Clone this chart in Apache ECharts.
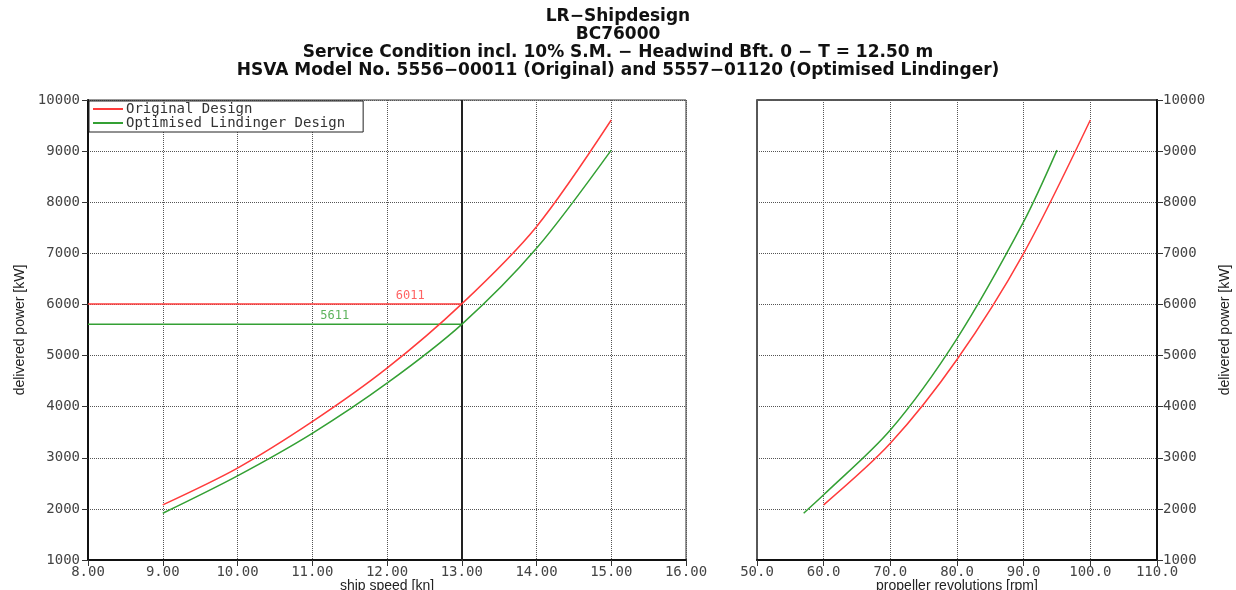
<!DOCTYPE html>
<html>
<head>
<meta charset="utf-8">
<script src="https://cdn.jsdelivr.net/npm/echarts@6/dist/echarts.min.js"></script>
<style>
html,body{margin:0;padding:0;background:#fff;}
#c{width:1236px;height:590px;}
</style>
</head>
<body>
<div id="c"></div>
<script>
// ---- data ----
const titleLines = [
  'LR\u2212Shipdesign',
  'BC76000',
  'Service Condition incl. 10% S.M. \u2212 Headwind Bft. 0 \u2212 T = 12.50 m',
  'HSVA Model No. 5556\u221200011 (Original) and 5557\u221201120 (Optimised Lindinger)'
];
const seriesNames = ['Original Design', 'Optimised Lindinger Design'];
const speed = [9, 10, 11, 12, 13, 14, 15];
const powerOrigSpeed = [2078, 2798, 3706, 4753, 6011, 7522, 9608];
const powerOptSpeed  = [1915, 2647, 3478, 4459, 5611, 7098, 9020];
const rpmOrig = [60, 70, 80, 90, 100];
const powerOrigRpm = [2078, 3282, 4922, 7000, 9608];
const rpmOpt = [57, 60, 70, 80, 90, 95];
const powerOptRpm = [1915, 2275, 3543, 5333, 7620, 9020];
const serviceSpeed = 13;
const servicePower = [6011, 5611];
const speedTicks = {min: 8, max: 16, interval: 1};
const rpmTicks = {min: 50, max: 110, interval: 10};
const powerTicks = {min: 1000, max: 10000, interval: 1000};

const RED = '#ff3b3b', GREEN = '#34a034';
const MONO = '"DejaVu Sans Mono", monospace';
const SANS = '"Liberation Sans", Arial, sans-serif';

const zip = (a, b) => a.map((v, i) => [v, b[i]]);

const chart = echarts.init(document.getElementById('c'), null, {renderer: 'canvas'});

const axisLabelStyle = {fontFamily: MONO, fontSize: 14, color: '#444'};
const splitLine = {show: true, lineStyle: {type: 'dotted', color: '#555', width: 1}};
const axisLine = {show: true, onZero: false, lineStyle: {color: '#111', width: 2}};
const axisTick = {show: true, length: 6, lineStyle: {color: '#333', width: 1}};
const curve = {type: 'line', smooth: 0.3, showSymbol: false, symbol: 'none', z: 5};
const nameStyle = {fontFamily: SANS, fontSize: 14, color: '#222'};

const option = {
  animation: false,
  backgroundColor: '#fff',
  title: {
    text: titleLines.join('\n'),
    left: 'center',
    top: 3,
    textStyle: {fontFamily: '"DejaVu Sans", sans-serif', fontWeight: 'bold', fontSize: 17, lineHeight: 18, color: '#111'}
  },
  legend: {
    data: seriesNames,
    orient: 'vertical',
    left: 89,
    top: 101,
    itemGap: 0,
    itemWidth: 30,
    itemHeight: 2,
    icon: 'rect',
    padding: [1, 18, 2, 4],
    backgroundColor: '#fff',
    borderColor: '#222',
    borderWidth: 1,
    borderRadius: 0,
    textStyle: {fontFamily: MONO, fontSize: 14, color: '#333', padding: [0, 0, 0, -2]}
  },
  grid: [
    {left: 88, top: 100, width: 598, height: 460, show: true, borderColor: '#333', borderWidth: 1, outerBoundsMode: 'none', containLabel: false},
    {left: 757, top: 100, width: 400, height: 460, show: true, borderColor: '#222', borderWidth: 1.5, outerBoundsMode: 'none', containLabel: false}
  ],
  xAxis: [
    {
      type: 'value', gridIndex: 0, ...speedTicks,
      name: 'ship speed [kn]', nameLocation: 'middle', nameGap: 19, nameMoveOverlap: false, nameTextStyle: nameStyle,
      axisLine, axisTick, splitLine,
      axisLabel: {...axisLabelStyle, margin: 5, formatter: v => v.toFixed(2)}
    },
    {
      type: 'value', gridIndex: 1, ...rpmTicks,
      name: 'propeller revolutions [rpm]', nameLocation: 'middle', nameGap: 19, nameMoveOverlap: false, nameTextStyle: nameStyle,
      axisLine, axisTick, splitLine,
      axisLabel: {...axisLabelStyle, margin: 5, formatter: v => v.toFixed(1)}
    }
  ],
  yAxis: [
    {
      type: 'value', gridIndex: 0, position: 'left', ...powerTicks,
      name: 'delivered power [kW]', nameLocation: 'middle', nameGap: 61, nameRotate: 90, nameMoveOverlap: false, nameTextStyle: nameStyle,
      axisLine, axisTick, splitLine,
      axisLabel: {...axisLabelStyle, margin: 8, formatter: v => String(v)}
    },
    {
      type: 'value', gridIndex: 1, position: 'right', ...powerTicks,
      name: 'delivered power [kW]', nameLocation: 'middle', nameGap: 61, nameRotate: 90, nameMoveOverlap: false, nameTextStyle: nameStyle,
      axisLine, axisTick, splitLine,
      axisLabel: {...axisLabelStyle, margin: 6, formatter: v => String(v)}
    }
  ],
  series: [
    {
      ...curve, name: seriesNames[0], xAxisIndex: 0, yAxisIndex: 0,
      data: zip(speed, powerOrigSpeed),
      lineStyle: {color: RED, width: 1.5}, itemStyle: {color: RED},
      markLine: {
        silent: true, symbol: 'none', label: {show: false},
        lineStyle: {color: '#222', width: 2, type: 'solid'},
        data: [{xAxis: serviceSpeed}]
      }
    },
    {
      ...curve, name: seriesNames[1], xAxisIndex: 0, yAxisIndex: 0,
      data: zip(speed, powerOptSpeed),
      lineStyle: {color: GREEN, width: 1.5}, itemStyle: {color: GREEN}
    },
    {
      ...curve, name: seriesNames[0], xAxisIndex: 1, yAxisIndex: 1,
      data: zip(rpmOrig, powerOrigRpm),
      lineStyle: {color: RED, width: 1.5}, itemStyle: {color: RED}
    },
    {
      ...curve, name: seriesNames[1], xAxisIndex: 1, yAxisIndex: 1,
      data: zip(rpmOpt, powerOptRpm),
      lineStyle: {color: GREEN, width: 1.5}, itemStyle: {color: GREEN}
    },
    {
      name: 'service-orig', type: 'line', xAxisIndex: 0, yAxisIndex: 0,
      data: [[speedTicks.min, servicePower[0]], [serviceSpeed, servicePower[0]]],
      showSymbol: false, symbol: 'none', z: 4,
      lineStyle: {color: RED, width: 1.5}
    },
    {
      name: 'service-opt', type: 'line', xAxisIndex: 0, yAxisIndex: 0,
      data: [[speedTicks.min, servicePower[1]], [serviceSpeed, servicePower[1]]],
      showSymbol: false, symbol: 'none', z: 4,
      lineStyle: {color: GREEN, width: 1.5}
    },
    {
      name: 'service-labels', type: 'scatter', xAxisIndex: 0, yAxisIndex: 0,
      symbolSize: 0, silent: true, z: 6,
      data: [
        {value: [12.31, servicePower[0]], label: {color: RED}},
        {value: [11.30, servicePower[1]], label: {color: GREEN}}
      ],
      label: {
        show: true, position: 'top', distance: 2,
        fontFamily: MONO, fontSize: 12,
        formatter: p => String(p.value[1])
      }
    }
  ]
};
chart.setOption(option);
</script>
</body>
</html>
